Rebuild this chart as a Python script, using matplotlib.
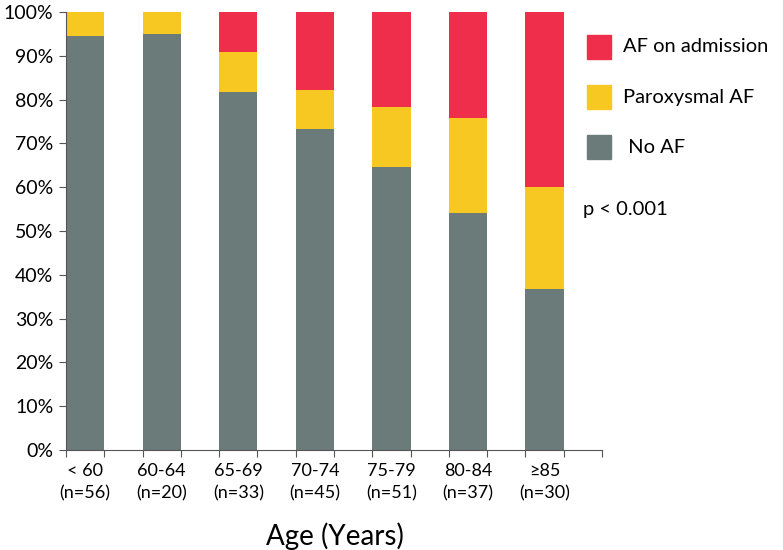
import numpy as np
import matplotlib
matplotlib.use('Agg')
import matplotlib.pyplot as plt
from matplotlib.patches import Rectangle

plt.rcParams['font.family'] = ['Lato', 'DejaVu Sans']

age_groups = ['< 60', '60-64', '65-69', '70-74', '75-79', '80-84', '\u226585']
n_counts = [56, 20, 33, 45, 51, 37, 30]
no_af = [94.6, 95.0, 81.8, 73.3, 64.7, 54.1, 36.7]
paroxysmal = [5.4, 5.0, 9.1, 8.9, 13.7, 21.6, 23.3]
af_admission = [0.0, 0.0, 9.1, 17.8, 21.6, 24.3, 40.0]

grey = '#6b7b7a'
yellow = '#f8c822'
red = '#ee2e4b'

fig = plt.figure(figsize=(7.83, 5.5), dpi=100)
ax = fig.add_axes([66/783, 1-450/550, 536/783, 438/550])

x = np.arange(len(age_groups))
no_af = np.array(no_af)
paroxysmal = np.array(paroxysmal)
af_admission = np.array(af_admission)

ax.bar(x, no_af, width=0.5, align='edge', color=grey)
ax.bar(x, paroxysmal, width=0.5, align='edge', bottom=no_af, color=yellow)
ax.bar(x, af_admission, width=0.5, align='edge', bottom=no_af + paroxysmal, color=red)

ax.set_xlim(0, len(age_groups))
ax.set_ylim(0, 100)
ax.set_yticks(np.arange(0, 101, 10))
ax.set_yticklabels(['%d%%' % v for v in range(0, 101, 10)], fontsize=14)

ax.set_xticks(np.arange(0, len(age_groups) + 0.01, 0.5))
ax.set_xticklabels([])
ax.set_xticks(x + 0.25, minor=True)
ax.set_xticklabels(['%s\n(n=%d)' % (a, n) for a, n in zip(age_groups, n_counts)],
                   minor=True, fontsize=13, linespacing=1.55)
ax.tick_params(axis='x', which='minor', length=0, pad=9)
ax.tick_params(axis='x', which='major', length=5, color='#555555')
ax.tick_params(axis='y', length=5, color='#555555', pad=4)

for s in ['top', 'right']:
    ax.spines[s].set_visible(False)
for s in ['left', 'bottom']:
    ax.spines[s].set_color('#555555')

fig.text(335/783, 1-536/550, 'Age (Years)', ha='center', va='center', fontsize=20)

# legend
labels = ['AF on admission', 'Paroxysmal AF', ' No AF']
colors = [red, yellow, grey]
for i, (lab, c) in enumerate(zip(labels, colors)):
    yc = 47 + i * 50
    fig.patches.append(Rectangle((587/783, 1-(yc+12)/550), 24/783, 24/550,
                                 transform=fig.transFigure, color=c))
    fig.text(623/783, 1-yc/550, lab, ha='left', va='center', fontsize=14.5)

fig.text(583/783, 1-210/550, 'p < 0.001', ha='left', va='center', fontsize=14.5)

fig.savefig('out.png', dpi=100)
